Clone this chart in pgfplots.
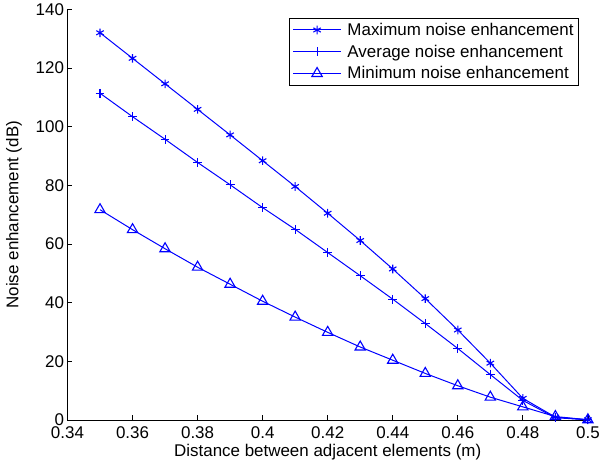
\documentclass[border=0pt]{standalone}
\usepackage{fontspec}
\setmainfont{Liberation Sans}
\usepackage{pgfplots}
\pgfplotsset{compat=1.18}

\begin{document}
\begin{tikzpicture}[x=1pt,y=1pt]
\begin{axis}[
  at={(0pt,0pt)}, anchor=south west,
  scale only axis,
  width=522pt, height=412pt,
  xmin=0.34, xmax=0.5,
  ymin=0, ymax=140,
  xtick={0.34,0.36,0.38,0.4,0.42,0.44,0.46,0.48,0.5},
  ytick={0,20,40,60,80,100,120,140},
  axis lines=left,
  axis line style={-, line width=0.8pt},
  tick style={line width=0.8pt, black},
  tick align=inside,
  major tick length=5pt,
  /pgf/number format/assume math mode=true,
  font=\fontsize{17}{20}\selectfont,
  xticklabel style={yshift=-3pt},
  xlabel={Distance between adjacent elements (m)},
  ylabel={Noise enhancement (dB)},
  xlabel style={yshift=1pt},
  ylabel style={yshift=7pt},
  legend style={
    at={(0.9828,0.9796)}, anchor=north east,
    draw=black, line width=0.8pt,
    font=\fontsize{17}{20}\selectfont,
    inner xsep=3pt, inner ysep=3pt,
    row sep=4pt,
    column sep=4pt,
  },
  legend cell align=left,
  legend image code/.code={%
    \draw[mark repeat=2, mark phase=2, #1]
      plot coordinates {(0pt,0pt) (24pt,0pt) (48pt,0pt)};},
]
\addplot[blue, line width=1pt, mark=asterisk, mark size=4.3pt,
         mark options={blue, solid, line width=1.1pt}] coordinates {
  (0.35,132.0) (0.36,123.3) (0.37,114.6) (0.38,105.9) (0.39,97.2)
  (0.40,88.4) (0.41,79.6) (0.42,70.5) (0.43,61.2) (0.44,51.5)
  (0.45,41.4) (0.46,30.7) (0.47,19.4) (0.48,7.4) (0.49,1.0) (0.50,0.1)
};
\addlegendentry{Maximum noise enhancement}
\addplot[blue, line width=1pt, mark=+, mark size=4.4pt,
         mark options={blue, solid, line width=1.1pt}] coordinates {
  (0.35,111.4) (0.36,103.4) (0.37,95.7) (0.38,87.8) (0.39,80.2)
  (0.40,72.4) (0.41,65.0) (0.42,57.1) (0.43,49.2) (0.44,41.2)
  (0.45,32.9) (0.46,24.4) (0.47,15.5) (0.48,6.7) (0.49,0.8) (0.50,0.1)
};
\addlegendentry{Average noise enhancement}
\addplot[blue, line width=1pt, mark=triangle, mark size=6pt,
         mark options={blue, solid, line width=1.1pt}] coordinates {
  (0.35,71.7) (0.36,64.9) (0.37,58.4) (0.38,52.1) (0.39,46.3)
  (0.40,40.5) (0.41,35.1) (0.42,29.9) (0.43,24.9) (0.44,20.4)
  (0.45,15.9) (0.46,11.7) (0.47,7.8) (0.48,4.5) (0.49,1.2) (0.50,0.1)
};
\addlegendentry{Minimum noise enhancement}
\end{axis}
\path (-67.7pt,-50.7pt) rectangle (535.3pt,419.3pt);
\end{tikzpicture}
\end{document}
